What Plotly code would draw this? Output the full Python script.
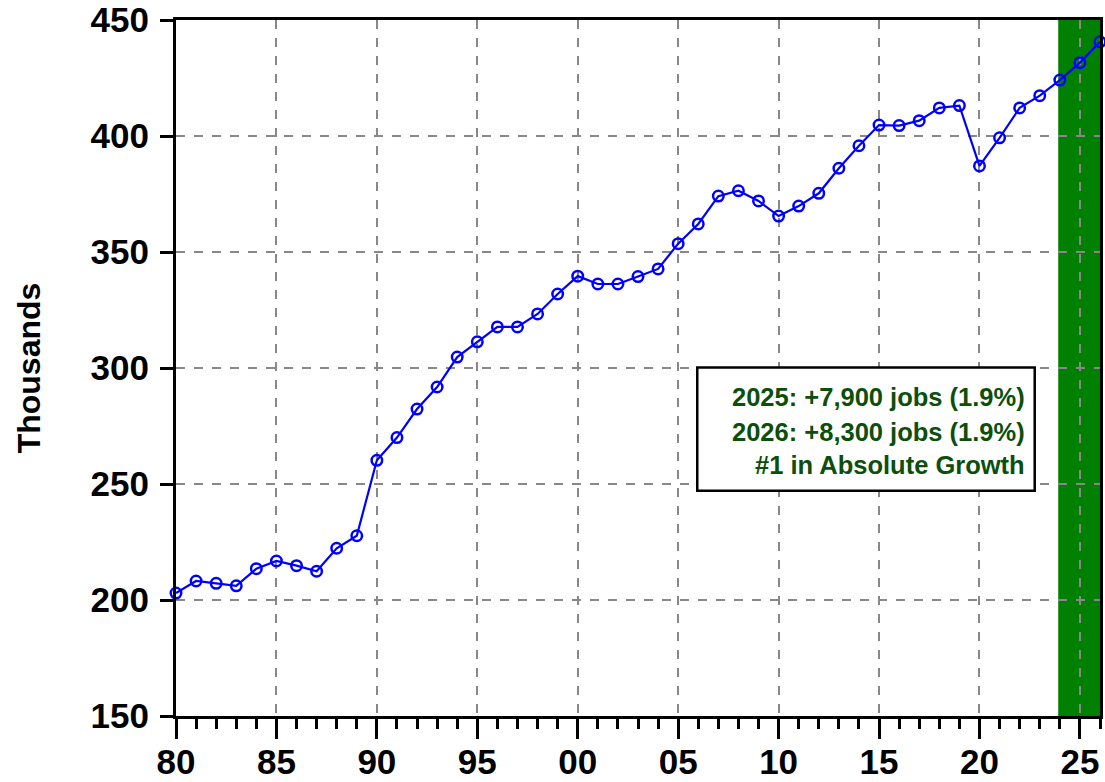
import plotly.graph_objects as go

years = list(range(1980, 2027))
values = [203.0, 208.2, 207.2, 206.1, 213.5, 216.8, 214.8, 212.4, 222.3, 227.7,
          260.2, 270.0, 282.3, 291.8, 304.7, 311.3, 317.7, 317.7, 323.3, 331.9,
          339.6, 336.2, 336.2, 339.4, 342.7, 353.6, 362.1, 374.1, 376.4, 372.0,
          365.5, 369.8, 375.3, 386.1, 395.8, 404.7, 404.5, 406.6, 412.1, 413.1,
          387.1, 399.2, 412.1, 417.4, 424.1, 431.6, 440.6]

x_tick_vals = [1980, 1985, 1990, 1995, 2000, 2005, 2010, 2015, 2020, 2025]
x_tick_text = ["80", "85", "90", "95", "00", "05", "10", "15", "20", "25"]
y_tick_vals = [150, 200, 250, 300, 350, 400, 450]

forecast_start = 2023.92
forecast_end = 2026

note_lines = ["2025: +7,900 jobs (1.9%)",
              "2026: +8,300 jobs (1.9%)",
              "#1 in Absolute Growth"]
note_y = [287.6, 272.5, 258.2]

FONT = "Arial, Liberation Sans, sans-serif"

fig = go.Figure()
fig.add_trace(go.Scatter(
    x=years, y=values, mode="lines+markers",
    line=dict(color="#0000ff", width=2.2),
    marker=dict(symbol="circle-open", size=10.5, color="#0000ff",
                line=dict(width=2.5, color="#0000ff")),
    showlegend=False, cliponaxis=False,
))

fig.add_shape(type="rect", xref="x", yref="y",
              x0=forecast_start, x1=forecast_end, y0=150, y1=450,
              fillcolor="#008000", line=dict(width=0), layer="below")

# annotation box
fig.add_shape(type="rect", xref="x", yref="y",
              x0=2005.95, x1=2022.75, y0=247.1, y1=300.2,
              fillcolor="white", line=dict(color="black", width=2.5), layer="above")
for txt, yv in zip(note_lines, note_y):
    fig.add_annotation(x=2022.38, y=yv, xref="x", yref="y", text="<b>" + txt + "</b>",
                       showarrow=False, xanchor="right", yanchor="middle",
                       font=dict(family=FONT, size=25.5, color="#0b4f0b"))

fig.update_layout(
    width=1105, height=782,
    margin=dict(l=176, r=5, t=20, b=66),
    paper_bgcolor="white", plot_bgcolor="white",
    font=dict(family=FONT, color="black"),
)

fig.update_xaxes(
    range=[1980, 2026], automargin=False,
    tickvals=x_tick_vals, ticktext=x_tick_text,
    tickfont=dict(family=FONT, size=35, color="black", weight="bold"),
    ticks="outside", ticklen=20, tickwidth=2.5, tickcolor="black",
    ticklabelstandoff=-7,
    showline=True, linecolor="black", linewidth=3, mirror=True,
    showgrid=True, gridcolor="#888888", griddash="dash", gridwidth=2,
    minor=dict(dtick=1, tick0=1980, ticks="outside", ticklen=10, tickwidth=2.5,
               tickcolor="black", showgrid=False),
    zeroline=False,
)
fig.update_yaxes(
    range=[150, 450], automargin=False,
    tickvals=y_tick_vals,
    tickfont=dict(family=FONT, size=35, color="black", weight="bold"),
    ticks="outside", ticklen=13, tickwidth=2.5, tickcolor="black",
    ticklabelstandoff=4,
    showline=True, linecolor="black", linewidth=3, mirror=True,
    showgrid=True, gridcolor="#888888", griddash="dash", gridwidth=2,
    zeroline=False,
    title=dict(text="<b>Thousands</b>", font=dict(family=FONT, size=32, color="black"),
               standoff=41),
)

fig.write_html(
    "out.html",
    config={"displayModeBar": False},
    post_script="document.body.style.margin='0';document.body.style.overflow='hidden';",
)
